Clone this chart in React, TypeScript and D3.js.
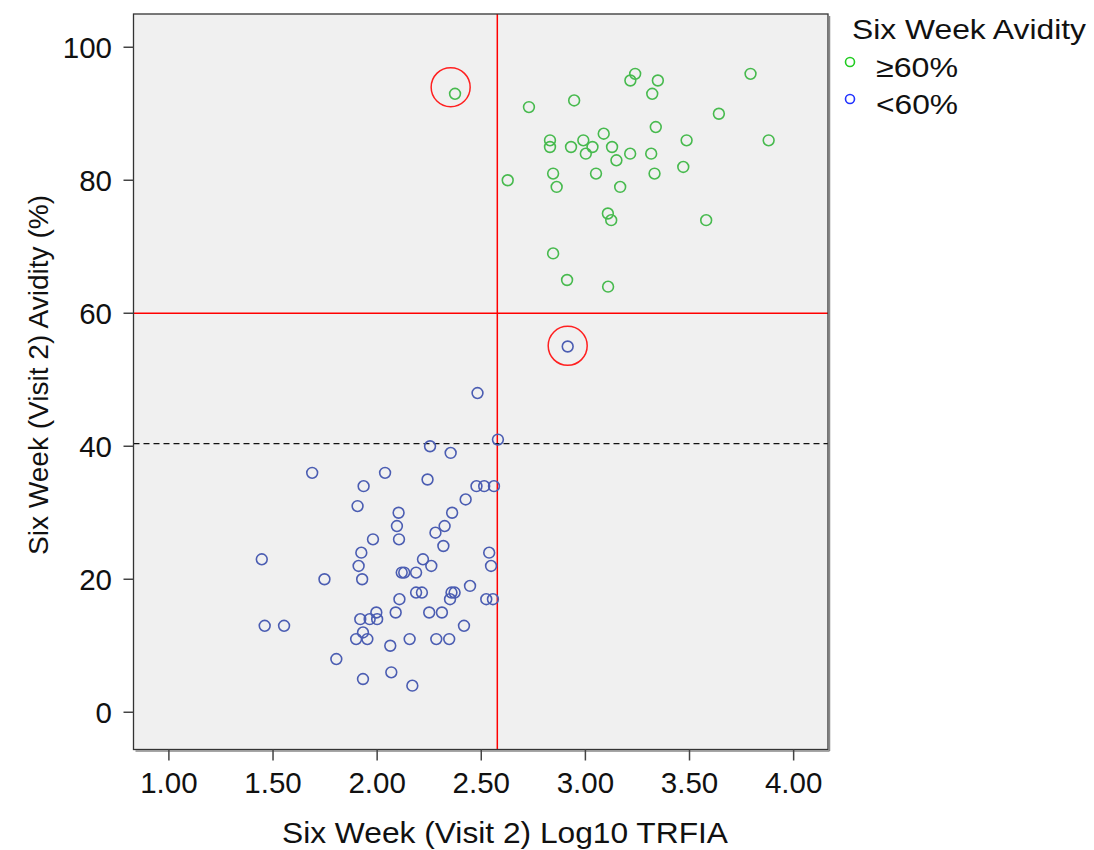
import * as d3 from "d3";

// six week avidity >= 60%
const highX = [2.374, 2.729, 2.946, 3.239, 3.216, 3.348, 3.321, 3.793, 3.641, 3.338, 3.088, 2.83, 2.83, 2.931, 2.99, 3.034, 3.002, 3.128, 3.149, 3.215, 3.316, 3.486, 3.88, 3.47, 3.332, 3.051, 2.845, 2.862, 3.167, 2.627, 3.108, 3.124, 3.58, 2.845, 2.912, 3.109];
const highY = [93, 91, 92, 96, 95, 95, 93, 96, 90, 88, 87, 86, 85, 85, 86, 85, 84, 85, 83, 84, 84, 86, 86, 82, 81, 81, 81, 79, 79, 80, 75, 74, 74, 69, 65, 64];

// six week avidity < 60%
const lowX = [2.915, 2.482, 2.58, 2.254, 2.353, 1.688, 2.038, 2.242, 1.935, 2.477, 2.514, 2.561, 2.425, 1.906, 2.103, 2.36, 2.095, 2.324, 2.28, 1.98, 2.105, 2.318, 1.924, 2.538, 1.446, 2.22, 1.911, 2.26, 2.547, 1.747, 1.928, 2.118, 2.13, 2.187, 2.187, 2.215, 2.446, 2.357, 2.372, 2.35, 2.107, 2.524, 2.556, 1.996, 2.089, 2.25, 2.311, 1.46, 1.553, 2.417, 1.919, 1.964, 2.0, 1.932, 1.899, 1.953, 2.156, 2.284, 2.346, 2.063, 1.804, 2.068, 1.932, 2.169];
const lowY = [55, 48, 41, 40, 39, 36, 36, 35, 34, 34, 34, 34, 32, 31, 30, 30, 28, 28, 27, 26, 26, 25, 24, 24, 23, 23, 22, 22, 22, 20, 20, 21, 21, 21, 18, 18, 19, 18, 18, 17, 17, 17, 17, 15, 15, 15, 15, 13, 13, 13, 14, 14, 14, 12, 11, 11, 11, 11, 11, 10, 8, 6, 5, 4];

const xTicks = [1, 1.5, 2, 2.5, 3, 3.5, 4];
const yTicks = [0, 20, 40, 60, 80, 100];

// reference lines and highlighted outliers
const cutX = 2.577;
const cutY = 60;
const dashY = 40.4;
const ringX = [2.353, 2.915];
const ringY = [94.0, 55.1];

const legendLabels = ["\u226560%", "<60%"];

const W = 1094;
const H = 850;
const L = 133.5, R = 828, T = 14, B = 749.5;
const font = "'Liberation Sans', Arial, sans-serif";
const GREEN = "#47ba4e";
const BLUE = "#4b5db2";

export default function App() {
  const x = d3.scaleLinear().domain([0.83, 4.165]).range([L, R]);
  const y = d3.scaleLinear().domain([-5.6, 105]).range([B, T]);
  const fmt = d3.format(".2f");

  return (
    <div style={{ position: "absolute", left: 0, top: 0 }}>
      <svg width={W} height={H} style={{ display: "block", background: "#fff" }}>
        <rect x={L} y={T} width={R - L} height={B - T} fill="#f0f0f0" />

        <line x1={x(cutX)} x2={x(cutX)} y1={T} y2={B} stroke="#ff0000" strokeWidth={1.5} />
        <line x1={L} x2={R} y1={y(cutY)} y2={y(cutY)} stroke="#ff0000" strokeWidth={1.5} />
        <line x1={L} x2={R} y1={y(dashY)} y2={y(dashY)} stroke="#111" strokeWidth={1.3} strokeDasharray="6,4" />

        {highX.map((v, i) => (
          <circle key={"h" + i} cx={x(v)} cy={y(highY[i])} r={5.4} fill="none" stroke={GREEN} strokeWidth={1.6} />
        ))}
        {lowX.map((v, i) => (
          <circle key={"l" + i} cx={x(v)} cy={y(lowY[i])} r={5.4} fill="none" stroke={BLUE} strokeWidth={1.6} />
        ))}
        {ringX.map((v, i) => (
          <circle key={"r" + i} cx={x(v)} cy={y(ringY[i])} r={19.5} fill="none" stroke="#ff2020" strokeWidth={1.5} />
        ))}

        <rect x={L} y={T} width={R - L} height={B - T} fill="none" stroke="#333" strokeWidth={1.3} />
        <line x1={R + 1.5} x2={R + 1.5} y1={T + 2} y2={B + 1.5} stroke="#888" strokeWidth={1.5} />
        <line x1={L + 2} x2={R + 1.5} y1={B + 1.5} y2={B + 1.5} stroke="#888" strokeWidth={1.5} />

        {xTicks.map((t) => (
          <g key={"xt" + t}>
            <line x1={x(t)} x2={x(t)} y1={B} y2={B + 11} stroke="#444" strokeWidth={1.5} />
            <text x={x(t)} y={793} textAnchor="middle" fontFamily={font} fontSize={29.5} fill="#111">
              {fmt(t)}
            </text>
          </g>
        ))}
        {yTicks.map((t) => (
          <g key={"yt" + t}>
            <line x1={L - 10} x2={L} y1={y(t)} y2={y(t)} stroke="#444" strokeWidth={1.5} />
            <text x={112} y={y(t)} dy="0.36em" textAnchor="end" fontFamily={font} fontSize={29.5} fill="#111">
              {t}
            </text>
          </g>
        ))}

        <text x={505} y={843} textAnchor="middle" fontFamily={font} fontSize={29} fill="#111"
          textLength={446} lengthAdjust="spacingAndGlyphs">
          Six Week (Visit 2) Log10 TRFIA
        </text>
        <text transform="translate(48,375) rotate(-90)" textAnchor="middle" fontFamily={font} fontSize={28} fill="#111"
          textLength={360} lengthAdjust="spacingAndGlyphs">
          Six Week (Visit 2) Avidity (%)
        </text>

        <text x={852} y={39} fontFamily={font} fontSize={28} fill="#111" textLength={234} lengthAdjust="spacingAndGlyphs">
          Six Week Avidity
        </text>
        {legendLabels.map((lab, i) => (
          <g key={lab}>
            <circle cx={850} cy={62 + i * 37} r={4.5} fill="none" stroke={i === 0 ? "#22cc22" : "#2233ff"} strokeWidth={1.6} />
            <text x={876} y={77 + i * 37} fontFamily={font} fontSize={28} fill="#111" textLength={82} lengthAdjust="spacingAndGlyphs">
              {lab}
            </text>
          </g>
        ))}
      </svg>
    </div>
  );
}
